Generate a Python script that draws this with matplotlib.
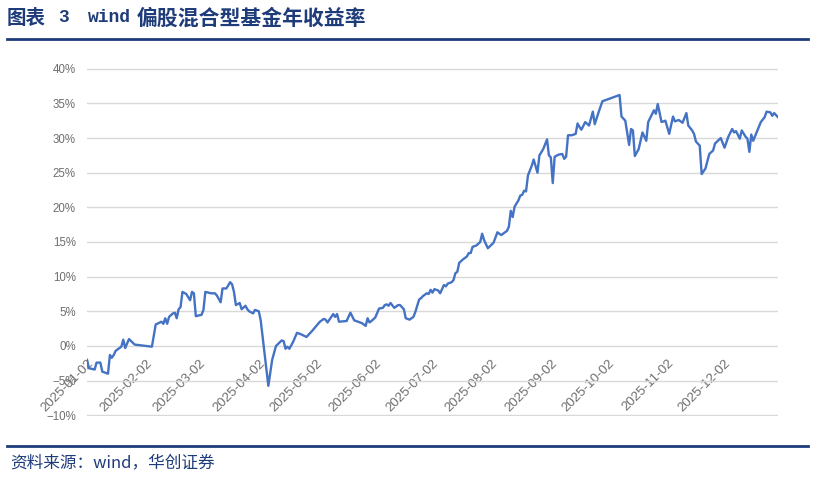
import numpy as np
import pandas as pd
import matplotlib
matplotlib.use("Agg")
import matplotlib.pyplot as plt
import matplotlib.dates as mdates
from matplotlib.lines import Line2D

plt.rcParams['font.family'] = ['Noto Sans CJK SC', 'DejaVu Sans']

# wind 偏股混合型基金 年内累计收益率 (%)
dates = [
    '2025-01-02', '2025-01-03', '2025-01-06', '2025-01-07', '2025-01-09', '2025-01-10',
    '2025-01-13', '2025-01-14', '2025-01-15', '2025-01-16', '2025-01-17', '2025-01-20',
    '2025-01-21', '2025-01-22', '2025-01-24', '2025-01-27', '2025-02-05', '2025-02-07',
    '2025-02-10', '2025-02-11', '2025-02-12', '2025-02-13', '2025-02-14', '2025-02-16',
    '2025-02-17', '2025-02-18', '2025-02-19', '2025-02-20', '2025-02-21', '2025-02-23',
    '2025-02-25', '2025-02-26', '2025-02-27', '2025-02-28', '2025-03-03', '2025-03-04',
    '2025-03-05', '2025-03-08', '2025-03-10', '2025-03-11', '2025-03-13', '2025-03-14',
    '2025-03-16', '2025-03-18', '2025-03-19', '2025-03-20', '2025-03-21', '2025-03-23',
    '2025-03-24', '2025-03-26', '2025-03-27', '2025-03-28', '2025-03-30', '2025-03-31',
    '2025-04-02', '2025-04-03', '2025-04-07', '2025-04-09', '2025-04-11', '2025-04-14',
    '2025-04-15', '2025-04-16', '2025-04-17', '2025-04-18', '2025-04-20', '2025-04-22',
    '2025-04-24', '2025-04-27', '2025-04-30', '2025-05-04', '2025-05-06', '2025-05-07',
    '2025-05-08', '2025-05-10', '2025-05-11', '2025-05-12', '2025-05-13', '2025-05-14',
    '2025-05-18', '2025-05-19', '2025-05-20', '2025-05-22', '2025-05-25', '2025-05-26',
    '2025-05-28', '2025-05-29', '2025-05-30', '2025-05-31', '2025-06-02', '2025-06-04',
    '2025-06-06', '2025-06-07', '2025-06-08', '2025-06-09', '2025-06-10', '2025-06-12',
    '2025-06-13', '2025-06-14', '2025-06-15', '2025-06-17', '2025-06-18', '2025-06-20',
    '2025-06-22', '2025-06-23', '2025-06-25', '2025-06-26', '2025-06-27', '2025-06-29',
    '2025-06-30', '2025-07-01', '2025-07-02', '2025-07-03', '2025-07-05', '2025-07-06',
    '2025-07-08', '2025-07-09', '2025-07-10', '2025-07-12', '2025-07-13', '2025-07-14',
    '2025-07-15', '2025-07-16', '2025-07-18', '2025-07-20', '2025-07-21', '2025-07-22',
    '2025-07-23', '2025-07-25', '2025-07-27', '2025-07-28', '2025-07-29', '2025-07-31',
    '2025-08-03', '2025-08-05', '2025-08-07', '2025-08-10', '2025-08-11', '2025-08-12',
    '2025-08-13', '2025-08-14', '2025-08-16', '2025-08-17', '2025-08-18', '2025-08-19',
    '2025-08-20', '2025-08-21', '2025-08-23', '2025-08-24', '2025-08-26', '2025-08-27',
    '2025-08-29', '2025-08-31', '2025-09-01', '2025-09-02', '2025-09-03', '2025-09-04',
    '2025-09-06', '2025-09-08', '2025-09-09', '2025-09-10', '2025-09-11', '2025-09-13',
    '2025-09-15', '2025-09-16', '2025-09-17', '2025-09-18', '2025-09-20', '2025-09-22',
    '2025-09-24', '2025-09-25', '2025-09-27', '2025-09-29', '2025-10-08', '2025-10-09',
    '2025-10-11', '2025-10-13', '2025-10-14', '2025-10-15', '2025-10-16', '2025-10-18',
    '2025-10-20', '2025-10-22', '2025-10-23', '2025-10-26', '2025-10-27', '2025-10-28',
    '2025-10-30', '2025-11-01', '2025-11-03', '2025-11-05', '2025-11-06', '2025-11-08',
    '2025-11-10', '2025-11-12', '2025-11-13', '2025-11-15', '2025-11-16', '2025-11-17',
    '2025-11-19', '2025-11-20', '2025-11-22', '2025-11-24', '2025-11-26', '2025-11-27',
    '2025-11-30', '2025-12-02', '2025-12-04', '2025-12-06', '2025-12-07', '2025-12-08',
    '2025-12-10', '2025-12-11', '2025-12-13', '2025-12-14', '2025-12-15', '2025-12-16',
    '2025-12-17', '2025-12-20', '2025-12-21', '2025-12-23', '2025-12-24', '2025-12-26',
    '2025-12-27', '2025-12-28', '2025-12-30',
]
returns = [
    -2.0, -3.2, -3.4, -2.4, -2.4, -3.7,
    -4.0, -1.3, -1.7, -1.3, -0.7, -0.1,
    0.9, -0.3, 1.0, 0.2, -0.1, 3.1,
    3.5, 3.2, 4.0, 3.2, 4.2, 4.7,
    4.8, 4.0, 5.3, 5.6, 7.8, 7.5,
    6.6, 7.8, 7.6, 4.3, 4.5, 5.2,
    7.8, 7.6, 7.6, 7.3, 6.3, 8.3,
    8.3, 9.2, 8.9, 7.8, 5.9, 6.2,
    5.3, 5.8, 5.3, 5.0, 4.7, 5.2,
    5.0, 3.7, -5.75, -2.0, 0.0, 0.8,
    0.7, -0.4, -0.1, -0.4, 0.6, 1.9,
    1.7, 1.3, 2.2, 3.5, 3.9, 3.8,
    3.4, 4.2, 4.6, 4.2, 4.6, 3.5,
    3.6, 4.2, 4.8, 3.7, 3.4, 3.3,
    2.9, 4.0, 3.4, 3.6, 4.1, 5.4,
    5.5, 5.9, 6.0, 5.8, 6.2, 5.5,
    5.7, 5.9, 5.9, 5.3, 4.0, 3.8,
    4.2, 4.9, 6.7, 6.9, 7.2, 7.6,
    7.5, 8.1, 7.7, 8.2, 8.0, 7.6,
    8.8, 8.6, 9.0, 9.2, 9.5, 10.5,
    10.7, 12.0, 12.5, 12.9, 13.4, 13.4,
    14.3, 14.5, 15.0, 16.2, 15.3, 14.1,
    14.9, 16.4, 16.0, 16.6, 17.2, 19.5,
    18.6, 20.1, 21.0, 21.7, 21.8, 22.4,
    22.3, 24.6, 26.0, 26.9, 25.0, 27.5,
    28.4, 29.8, 27.5, 27.2, 23.5, 27.3,
    27.6, 27.7, 27.0, 27.3, 30.4, 30.4,
    30.6, 32.1, 31.6, 31.2, 32.3, 31.8,
    33.8, 32.0, 33.7, 35.3, 36.2, 33.1,
    32.5, 29.0, 31.3, 31.1, 27.4, 28.4,
    30.8, 29.6, 32.3, 34.0, 33.5, 34.9,
    32.3, 32.5, 30.6, 33.1, 32.4, 32.6,
    32.2, 33.6, 31.8, 31.1, 30.6, 29.5,
    28.9, 24.8, 25.6, 27.7, 28.2, 29.2,
    30.0, 28.6, 30.2, 31.3, 30.8, 31.0,
    29.9, 31.1, 30.2, 29.9, 28.0, 30.5,
    29.6, 31.6, 32.3, 33.0, 33.8, 33.7,
    33.2, 33.6, 33.0,
]
y_ticks = [-10, -5, 0, 5, 10, 15, 20, 25, 30, 35, 40]

title_cn = '偏股混合型基金年收益率'
source_text = '资料来源：wind，华创证券'

navy = '#1F3C7A'
line_blue = '#4472C4'
grey = '#6E6E6E'

x = pd.to_datetime(dates)

fig = plt.figure(figsize=(8.14, 4.78), dpi=100)
ax = fig.add_axes([87 / 814, 1 - 416 / 478, (778 - 87) / 814, (416 - 68) / 478])

ax.plot(x, returns, color=line_blue, lw=1.7, zorder=3)

ax.set_ylim(-10.1, 40.1)
ax.set_xlim(pd.Timestamp('2025-01-02'), pd.Timestamp('2025-12-30'))
ax.set_yticks(y_ticks)
ax.set_yticklabels([f'{v}%'.replace('-', '\u2212') for v in y_ticks],
                   fontfamily='Liberation Sans', fontsize=8.3, color=grey)
ax.grid(axis='y', color='#D9D9D9', lw=1.0, zorder=0)
ax.set_axisbelow(True)

ax.xaxis.set_major_locator(mdates.MonthLocator(bymonthday=2))
ax.xaxis.set_major_formatter(mdates.DateFormatter('%Y-%m-%d'))
ax.spines['bottom'].set_position(('data', 0))
for s in ax.spines.values():
    s.set_visible(False)
ax.tick_params(axis='both', length=0)
ax.tick_params(axis='x', pad=8)
ax.tick_params(axis='y', pad=8)
for lab in ax.get_xticklabels():
    lab.set_rotation(45)
    lab.set_ha('right')
    lab.set_va('top')
    lab.set_rotation_mode('anchor')
    lab.set_fontfamily('Liberation Sans')
    lab.set_fontsize(9.6)
    lab.set_color(grey)

# title block
ty = 1 - 18 / 478
fig.text(7 / 814, ty, '图表', fontsize=14, fontweight='bold', color=navy, va='center')
fig.text(58 / 814, ty, '3', fontsize=13, fontweight='bold', color=navy, va='center',
         family='Liberation Mono')
fig.text(88 / 814, ty, 'wind', fontsize=13, fontweight='bold', color=navy, va='center',
         family='Liberation Mono')
fig.text(137 / 814, ty, title_cn, fontsize=15, fontweight='bold', color=navy, va='center')
fig.add_artist(Line2D([7 / 814, 808 / 814], [1 - 39 / 478, 1 - 39 / 478], color=navy, lw=2))

# source
fig.add_artist(Line2D([7 / 814, 808 / 814], [1 - 446 / 478, 1 - 446 / 478], color=navy, lw=2))
fig.text(10 / 814, 1 - 463 / 478, source_text, fontsize=12, style='italic', color=navy, va='center')

fig.savefig('out.png', dpi=100)
